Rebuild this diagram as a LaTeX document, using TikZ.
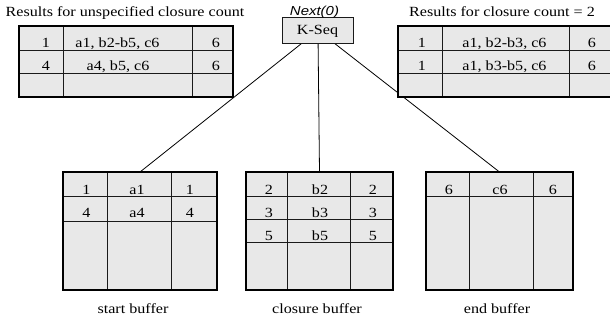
\documentclass[tikz,border=0pt]{standalone}
\usepackage{fontspec}
\setmainfont{Liberation Serif}[FakeStretch=1.15]
\setsansfont{Liberation Sans}[FakeStretch=1.15]
\usetikzlibrary{backgrounds}
\definecolor{cellfill}{HTML}{E8E8E8}
\definecolor{rule}{HTML}{1A1A1A}
\tikzset{
  tbl/.style={draw=black, line width=2pt, fill=cellfill, inner sep=0pt, outer sep=0pt, anchor=north west},
  grid/.style={draw=rule, line width=1pt},
  txt/.style={inner sep=0pt, anchor=base, font=\fontsize{14}{16}\selectfont},
  title/.style={txt},
  opbox/.style={draw=rule, line width=0.9pt, fill=cellfill, inner sep=0pt, anchor=north west, minimum width=71pt, minimum height=26pt},
  conn/.style={draw=black, line width=0.8pt},
}
\begin{document}
\begin{tikzpicture}[x=1pt,y=-1pt]
\useasboundingbox (0,0) rectangle (610,323);

% titles
\node[title] (tl-title) at (125,17) {Results for unspecified closure count};
\node[title] (tr-title) at (502,17) {Results for closure count = 2};

% K-Seq operator
\node[opbox] (kseq) at (282,17) {};
\node[txt] (kseq-lbl) at (317.5,35) {K-Seq};
\node[txt, font=\sffamily\itshape\fontsize{13}{15}\selectfont] (next) at (314.5,15.5) {Next(0)};

% top-left result table
\node[tbl, minimum width=214pt, minimum height=71pt] (tl) at (19,26) {};
\draw[grid] (63,26) -- (63,97) (192,26) -- (192,97) (19,51) -- (233,51) (19,74) -- (233,74);
\draw[line width=2pt] (tl.north west) rectangle (tl.south east);
\node[txt] (tl11) at (46,48) {1};
\node[txt] (tl12) at (117.5,48) {a1, b2-b5, c6};
\node[txt] (tl13) at (216,48) {6};
\node[txt] (tl21) at (46,71) {4};
\node[txt] (tl22) at (118,71) {a4, b5, c6};
\node[txt] (tl23) at (216,71) {6};

% top-right result table
\node[tbl, minimum width=222pt, minimum height=71pt] (tr) at (398,26) {};
\draw[grid] (442,26) -- (442,97) (569,26) -- (569,97) (398,51) -- (620,51) (398,74) -- (620,74);
\draw[line width=2pt] (tr.north west) rectangle (tr.south east);
\node[txt] (tr11) at (422,48) {1};
\node[txt] (tr12) at (504.5,48) {a1, b2-b3, c6};
\node[txt] (tr13) at (592,48) {6};
\node[txt] (tr21) at (422,71) {1};
\node[txt] (tr22) at (504.5,71) {a1, b3-b5, c6};
\node[txt] (tr23) at (592,71) {6};

% start buffer
\node[tbl, minimum width=154pt, minimum height=118pt] (sb) at (63,172) {};
\draw[grid] (107,172) -- (107,290) (171,172) -- (171,290) (63,197) -- (217,197) (63,221) -- (217,221);
\draw[line width=2pt] (sb.north west) rectangle (sb.south east);
\node[txt] (sb11) at (86.5,195) {1};
\node[txt] (sb12) at (137,195) {a1};
\node[txt] (sb13) at (190,195) {1};
\node[txt] (sb21) at (86.5,217) {4};
\node[txt] (sb22) at (137,217) {a4};
\node[txt] (sb23) at (190,217) {4};
\node[txt] (sb-lbl) at (133,313) {start buffer};

% closure buffer
\node[tbl, minimum width=147pt, minimum height=118pt] (cb) at (246,172) {};
\draw[grid] (287,172) -- (287,290) (350,172) -- (350,290) (246,197) -- (393,197) (246,219) -- (393,219) (246,242) -- (393,242);
\draw[line width=2pt] (cb.north west) rectangle (cb.south east);
\node[txt] (cb11) at (269,194) {2};
\node[txt] (cb12) at (320,194) {b2};
\node[txt] (cb13) at (373,194) {2};
\node[txt] (cb21) at (269,217) {3};
\node[txt] (cb22) at (320,217) {b3};
\node[txt] (cb23) at (373,217) {3};
\node[txt] (cb31) at (269,240) {5};
\node[txt] (cb32) at (320,240) {b5};
\node[txt] (cb33) at (373,240) {5};
\node[txt] (cb-lbl) at (317,313) {closure buffer};

% end buffer
\node[tbl, minimum width=147pt, minimum height=118pt] (eb) at (426,172) {};
\draw[grid] (469,172) -- (469,290) (533,172) -- (533,290) (426,197) -- (573,197);
\draw[line width=2pt] (eb.north west) rectangle (eb.south east);
\node[txt] (eb11) at (449,194) {6};
\node[txt] (eb12) at (500,194) {c6};
\node[txt] (eb13) at (553,194) {6};
\node[txt] (eb-lbl) at (497,313) {end buffer};

% connectors
\begin{pgfonlayer}{background}
\draw[conn] (kseq.center) -- (sb.north);
\draw[conn] (kseq.center) -- (cb.north);
\draw[conn] (kseq.center) -- (eb.north);
\end{pgfonlayer}
\end{tikzpicture}
\end{document}
